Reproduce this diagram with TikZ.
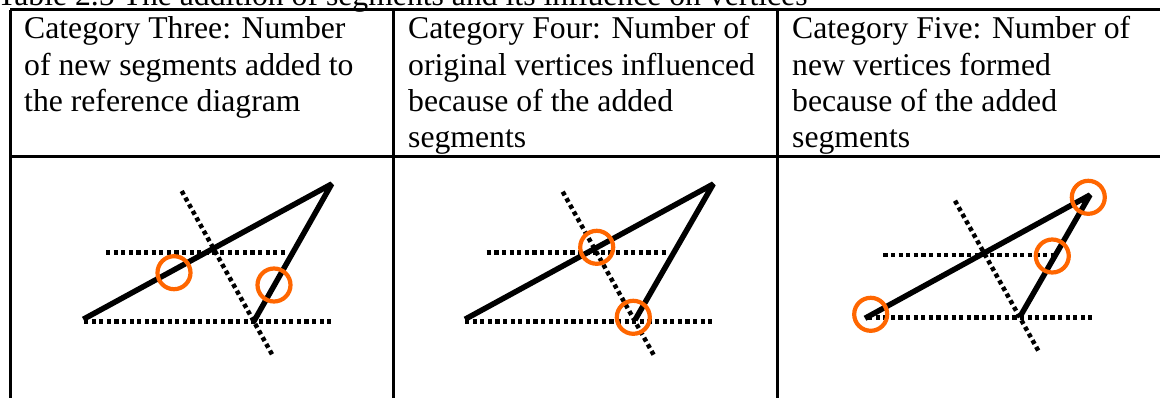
\documentclass[tikz,border=0pt]{standalone}
\usepackage{fontspec}
\setmainfont{Liberation Serif}
\usepackage{xcolor}

\definecolor{ringorange}{RGB}{255,102,0}

\begin{document}
\begin{tikzpicture}[x=1pt,y=-1pt,
  rule/.style={line width=3pt},
  edge/.style={line width=5.5pt,line join=bevel},
  guide/.style={line width=4.5pt,dash pattern=on 4.2pt off 3.4pt},
  ring/.style={draw=ringorange,line width=4.2pt,circle,inner sep=0pt,minimum size=33pt},
  cell/.style={anchor=base west,inner sep=0pt,font=\fontsize{31.7}{36.5}\selectfont}]

\useasboundingbox (0,0) rectangle (1160,398);

%------------------------------------------------
% Caption (cut at the top)
%------------------------------------------------

\node[cell] (cap) at (-3,5.5) {Table 2.5 The addition of segments and its influence on vertices};

%------------------------------------------------
% Table rules
%------------------------------------------------

\draw[rule] (10,10) -- (1170,10);
\draw[rule] (10,157) -- (1170,157);
\draw[rule] (10,10) -- (10,400);
\draw[rule] (393,10) -- (393,400);
\draw[rule] (777,10) -- (777,400);

%------------------------------------------------
% Header cells
%------------------------------------------------

\node[cell] (h1a) at (24,39)  {Category Three: Number};
\node[cell] (h1b) at (24,76)  {of new segments added to};
\node[cell] (h1c) at (24,112) {the reference diagram};

\node[cell] (h2a) at (408,39)  {Category Four: Number of};
\node[cell] (h2b) at (408,76)  {original vertices influenced};
\node[cell] (h2c) at (408,112) {because of the added};
\node[cell] (h2d) at (408,148) {segments};

\node[cell] (h3a) at (792,39)  {Category Five: Number of};
\node[cell] (h3b) at (792,76)  {new vertices formed};
\node[cell] (h3c) at (792,112) {because of the added};
\node[cell] (h3d) at (792,148) {segments};

%------------------------------------------------
% Diagram one
%------------------------------------------------

\draw[guide] (106,252.3) -- (287,252.3);
\draw[guide] (84,321.3) -- (333,321.3);
\draw[guide] (181.7,191) -- (273.3,356.7);
\draw[edge] (83.3,319.3) -- (331.7,184) -- (253.3,322.3);

\node[ring] (r1a) at (174,272.7) {};
\node[ring] (r1b) at (274,285) {};

%------------------------------------------------
% Diagram two
%------------------------------------------------

\draw[guide] (486.7,252.3) -- (668.3,252.3);
\draw[guide] (465,321.3) -- (715,321.3);
\draw[guide] (562.7,191.7) -- (655,357.3);
\draw[edge] (465,319.3) -- (713.3,184) -- (635,320);

\node[ring] (r2a) at (596.7,247.3) {};
\node[ring] (r2b) at (633.3,317.3) {};

%------------------------------------------------
% Diagram three
%------------------------------------------------

\draw[guide] (883.3,255) -- (1056,255);
\draw[guide] (868,317.3) -- (1091.7,317.3);
\draw[guide] (955,200.7) -- (1038.3,350.7);
\draw[edge] (865,318.3) -- (1090,195) -- (1020,316.7);

\node[ring] (r3a) at (870.7,314.3) {};
\node[ring] (r3b) at (1088.3,197.3) {};
\node[ring] (r3c) at (1052.3,256) {};

\end{tikzpicture}
\end{document}
